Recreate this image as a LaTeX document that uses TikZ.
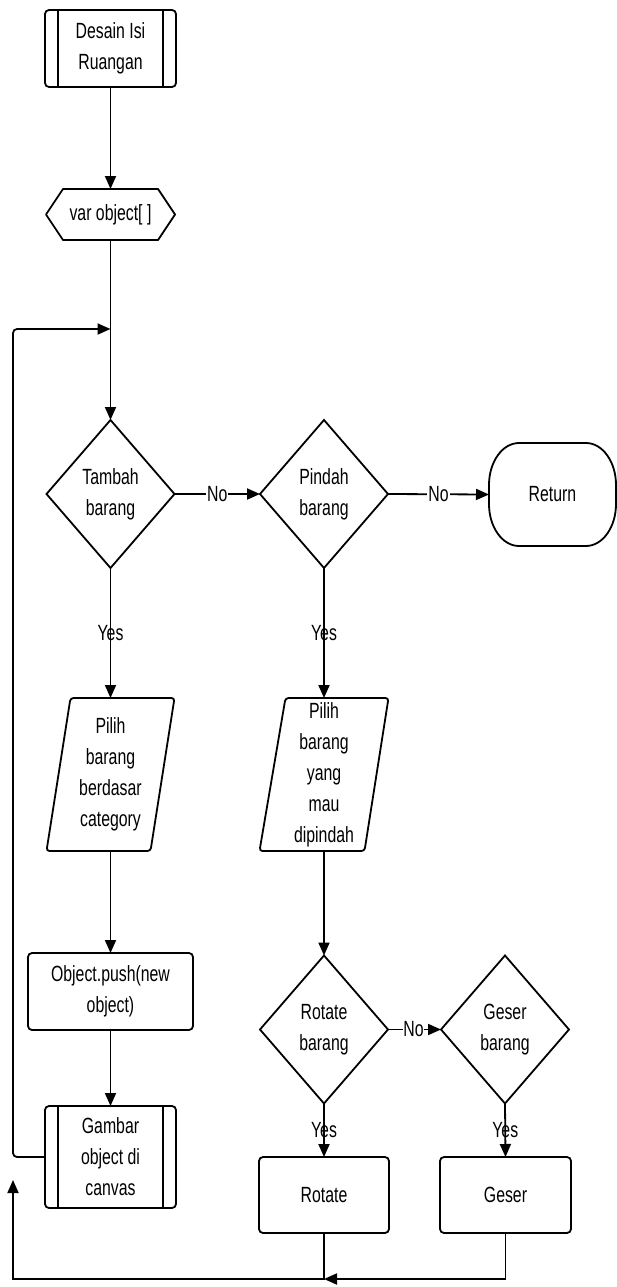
\documentclass[tikz,border=0pt]{standalone}
\usepackage{fontspec}
\setmainfont{Liberation Sans}[FakeStretch=0.72]
\usetikzlibrary{arrows.meta,shapes.geometric,calc}
\begin{document}
\begin{tikzpicture}[x=1pt,y=1pt,
  every node/.style={font=\fontsize{22}{31}\selectfont, align=center},
  box/.style={draw, line width=1.8pt, rounded corners=4pt, inner sep=0pt, outer sep=0pt},
  ghost/.style={inner sep=0pt, outer sep=0pt},
  dec/.style={draw, diamond, line width=1.8pt, inner sep=0pt, outer sep=0pt, minimum width=128pt, minimum height=148pt},
  line/.style={line width=1.8pt},
  arr/.style={line width=1.8pt, -{Triangle[length=13pt,width=11pt]}},
  nolab/.style={fill=white, inner sep=1pt},
  yeslab/.style={inner sep=0pt},
]
\fill[white] (0,0) rectangle (616,-1287);
\useasboundingbox (0,0) rectangle (616,-1287);

% Start
\node[box, minimum width=131pt, minimum height=77pt] (desain) at (110.5,-48.5) {Desain Isi\\Ruangan};
\draw[line] ([xshift=13pt]desain.north west) -- ([xshift=13pt]desain.south west);
\draw[line] ([xshift=-13pt]desain.north east) -- ([xshift=-13pt]desain.south east);

% Hexagon
\node[ghost, minimum width=129pt, minimum height=51pt] (var) at (110.5,-214.5) {var object[ ]};
\draw[line, line join=round] (var.west) -- ([xshift=17pt]var.north west) -- ([xshift=-17pt]var.north east) -- (var.east) -- ([xshift=-17pt]var.south east) -- ([xshift=17pt]var.south west) -- cycle;

% Decisions row 1
\node[dec] (tambah) at (110.5,-494) {Tambah\\barang};
\node[dec] (pindah) at (324,-494) {Pindah\\barang};

% Return terminal
\node[ghost, minimum width=127pt, minimum height=103pt] (ret) at (552.5,-494.5) {Return};
\draw[line] ([xshift=30pt]ret.north west) -- ([xshift=-30pt]ret.north east)
  arc[start angle=90, end angle=0, x radius=30pt, y radius=42pt]
  -- ([yshift=42pt]ret.south east)
  arc[start angle=0, end angle=-90, x radius=30pt, y radius=42pt]
  -- ([xshift=30pt]ret.south west)
  arc[start angle=270, end angle=180, x radius=30pt, y radius=42pt]
  -- ([yshift=-42pt]ret.north west)
  arc[start angle=180, end angle=90, x radius=30pt, y radius=42pt]
  -- cycle;

% Parallelograms
\node[ghost, minimum width=128pt, minimum height=153pt,
  label={[align=center]center:{Pilih\\barang\\berdasar\\category}}] (pil1) at (110.5,-774.5) {};
\draw[line, rounded corners=3pt] ([xshift=24pt]pil1.north west) -- (pil1.north east) -- ([xshift=-24pt]pil1.south east) -- (pil1.south west) -- cycle;
\node[ghost, minimum width=129pt, minimum height=153pt,
  label={[align=center]center:{Pilih\\barang\\yang\\mau\\dipindah}}] (pil2) at (324,-774.5) {};
\draw[line, rounded corners=3pt] ([xshift=26pt]pil2.north west) -- (pil2.north east) -- ([xshift=-24pt]pil2.south east) -- (pil2.south west) -- cycle;

% Left column processes
\node[box, minimum width=165pt, minimum height=77pt] (push) at (110.5,-991.5) {Object.push(new\\object)};
\node[box, minimum width=131pt, minimum height=102pt] (gambar) at (110.5,-1157) {Gambar\\object di\\canvas};
\draw[line] ([xshift=13pt]gambar.north west) -- ([xshift=13pt]gambar.south west);
\draw[line] ([xshift=-13pt]gambar.north east) -- ([xshift=-13pt]gambar.south east);

% Decisions row 2
\node[dec] (rotq) at (324,-1029.5) {Rotate\\barang};
\node[dec] (gesq) at (505,-1029.5) {Geser\\barang};
\node[box, minimum width=130pt, minimum height=76pt] (rot) at (324,-1195) {Rotate};
\node[box, minimum width=131pt, minimum height=76pt] (geser) at (505.5,-1195) {Geser};

% Helper coordinates
\coordinate (join) at (110.5,-329);
\coordinate (lefttop) at (13,-329);
\coordinate (bot) at (324,-1279);
\coordinate (botleft) at (13,-1279);
\coordinate (upend) at (13,-1180);

% Connectors
\draw[arr] (desain.south) -- (var.north);
\draw[arr] (var.south) -- (tambah.north);
\draw[arr, rounded corners=4pt] (gambar.west) -| (lefttop) -- (join);
\draw[arr] (tambah.east) -- node[nolab]{No} (pindah.west);
\draw[arr] (pindah.east) -- node[nolab]{No} (ret.west);
\draw[arr] (tambah.south) -- node[yeslab]{Yes} (pil1.north);
\draw[arr] (pindah.south) -- node[yeslab]{Yes} (pil2.north);
\draw[arr] (pil1.south) -- (push.north);
\draw[arr] (push.south) -- (gambar.north);
\draw[arr] (pil2.south) -- (rotq.north);
\draw[arr] (rotq.east) -- node[nolab, inner sep=0pt, xshift=-1pt]{No} (gesq.west);
\draw[arr] (rotq.south) -- node[yeslab]{Yes} (rot.north);
\draw[arr] (gesq.south) -- node[yeslab]{Yes} (geser.north);
\draw[arr] (geser.south) |- (bot);
\draw[arr] (rot.south) -- (bot) -- (botleft) -- (upend);
\end{tikzpicture}
\end{document}
